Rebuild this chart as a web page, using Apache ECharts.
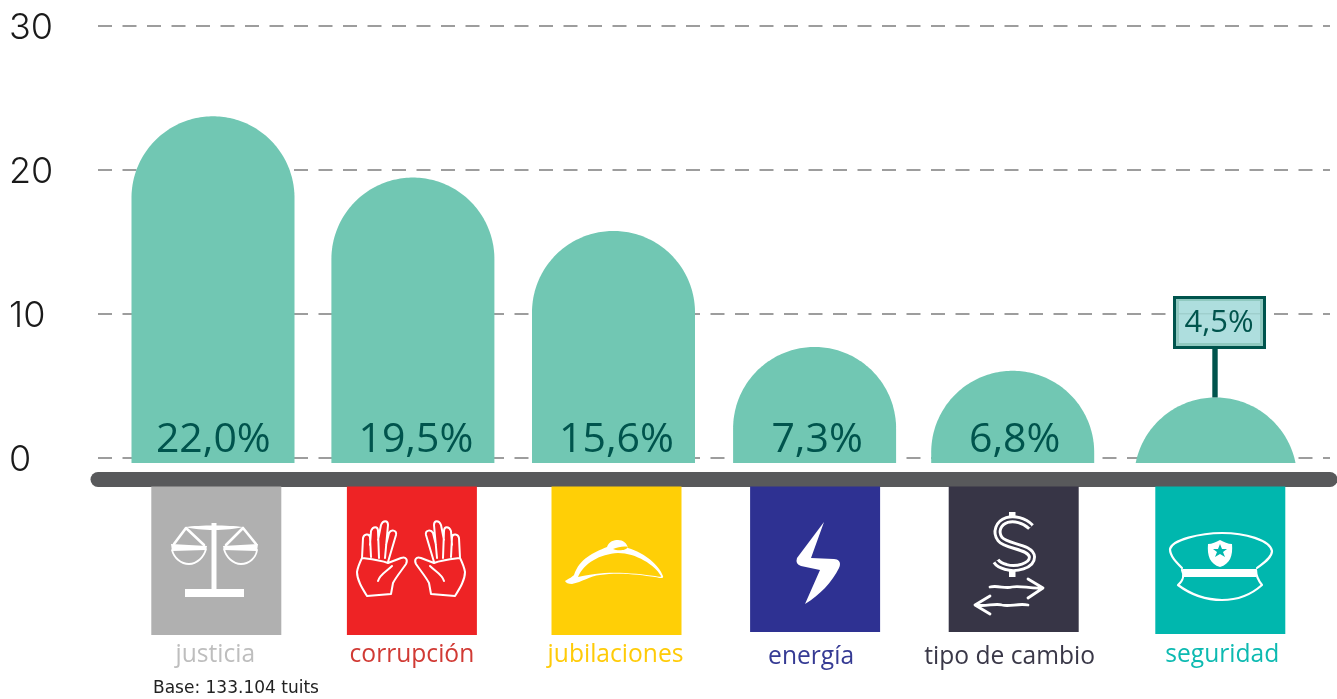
<!DOCTYPE html>
<html><head><meta charset="utf-8">
<style>html,body{margin:0;padding:0;background:#fff}#c{width:1337px;height:699px}</style>
<script src="https://cdn.jsdelivr.net/npm/echarts@6/dist/echarts.min.js"></script>
</head><body><div id="c"></div>
<script>
// ---- data ----
const categories = ['justicia','corrupción','jubilaciones','energía','tipo de cambio','seguridad'];
const shareValues = [22.0,19.5,15.6,7.3,6.8,4.5];
const domeTops = [23.7,19.45,15.75,7.7,6.05,4.2];
const domeBase = -0.35;
const yTicks = [0,10,20,30];
const baseNote = 'Base: 133.104 tuits';
const calloutCategory = 'seguridad';
// ---- style tables ----
const tileColors = ['#b0b0b0','#ee2325','#ffcf06','#2e3192','#373546','#00b7ae'];
const labelColors = ['#bebebe','#d13a34','#ffcb08','#363b94','#3a3848','#0dbab1'];
const barNudge = [-0.3,-1,-1,-0.5,-3,-0.7];
const valueNudge = [0,2,2,2,-1,0];
const tileNudge = [3,-2,2,0,-2,4];
const tileBottoms = [635,635,635,632,632,634];
const labelNudge = [2,-2,1,-4,-6,6];
const labelY = [655,655,655,657,657,655];
const BAR='#71c7b3', DARK='#00544d', R=81.5;

function dome(cx,top,base){
  const pts=[], cy=top+R;
  if(base>cy){pts.push([cx-R,base]);}
  else{const d=Math.sqrt(R*R-(cy-base)*(cy-base));pts.push([cx-d,base]);}
  for(let k=0;k<=120;k++){
    const a=Math.PI+Math.PI*k/120, x=cx+R*Math.cos(a), y=cy+R*Math.sin(a);
    if(y<=base) pts.push([x,y]);
  }
  if(base>cy){pts.push([cx+R,base]);}
  else{const d=Math.sqrt(R*R-(cy-base)*(cy-base));pts.push([cx+d,base]);}
  return pts;
}
function renderItem(params,api){
  const i=params.dataIndex;
  const c=api.coord([api.value(0),api.value(1)]);
  const cx=c[0]+barNudge[i], top=c[1];
  const zero=api.coord([api.value(0),0])[1];
  const base=api.coord([api.value(0),domeBase])[1];
  const tcx=c[0]+tileNudge[i];
  const pct=shareValues[i].toFixed(1).replace('.',',')+'%';
  const kids=[
    {type:'rect',shape:{x:tcx-65,y:486.5,width:130,height:tileBottoms[i]-486.5},style:{fill:tileColors[i]}},
    {type:'polygon',shape:{points:dome(cx,top,base)},style:{fill:BAR}},
    {type:'text',style:{x:c[0]+labelNudge[i],y:labelY[i],text:categories[i],fill:labelColors[i],font:'400 24.6px "Open Sans"',align:'center',verticalAlign:'middle'}}
  ];
  if(categories[i]===calloutCategory){
    const sx=c[0]-1.3;
    kids.push(
      {type:'rect',shape:{x:sx-2.7,y:347,width:5.4,height:top-347},style:{fill:DARK}},
      {type:'rect',shape:{x:sx-40.5,y:297.5,width:90,height:50},style:{fill:'#90c9c0',stroke:DARK,lineWidth:3}},
      {type:'rect',shape:{x:sx-36,y:301,width:81,height:42},style:{fill:'#aedede'}},
      {type:'rect',shape:{x:sx-36,y:313,width:81,height:1.5},style:{fill:'#9fcfcd'}},
      {type:'text',style:{x:sx+4,y:323.5,text:pct,fill:DARK,font:'400 31px "Open Sans"',align:'center',verticalAlign:'middle'}}
    );
  } else {
    kids.push({type:'text',style:{x:c[0]+valueNudge[i],y:zero-18,text:pct,fill:DARK,font:'400 41px "Open Sans"',align:'center',verticalAlign:'middle'}});
  }
  return {type:'group',children:kids};
}
const W={fill:'#fff'}, L=w=>({fill:'none',stroke:'#fff',lineWidth:w,lineCap:'round',lineJoin:'round'});
const handPath='M367,596 C362,588 357,580 357,572 C358,566 360,562 362,558 L363,538 C364,534 369,533 370,537 L371,557 M370,545 L371,531 C373,526 378,526 378,531 L379,558 M378,540 L381,525 C383,520 388,520 388,525 L385,558 M386,545 L389,533 C391,529 397,530 396,535 L388,562 M388,563 L401,558 C406,556 408,560 406,564 C402,570 396,577 393,583 L391,594 L367,596 M362,558 C370,559 380,560 388,563 M378,581 C380,574 386,572 392,566';
const dollarS='M1031,527 C1024,520 1014,518 1007,520 C998,523 995,532 1000,539 C1006,547 1031,546 1032,557 C1032,566 1016,570 1006,567 C1002,566 998,564 996,561';
const icons=[
  // scales
  {type:'rect',shape:{x:211.5,y:523,width:5,height:70},style:W},
  {type:'rect',shape:{x:185,y:589,width:59,height:8},style:W},
  {type:'path',shape:{pathData:'M185,527 C200,525 228,525 243,527 C228,531 200,531 185,527Z'},style:W},
  {type:'path',shape:{pathData:'M171,544 L207,546 L206,550 L172,551Z'},style:W},
  {type:'path',shape:{pathData:'M223,546 L258,544 L257,551 L224,550Z'},style:W},
  {type:'path',shape:{pathData:'M172,550 C174,558 181,564 189,564 C197,564 204,557 206,549'},style:L(1.8)},
  {type:'path',shape:{pathData:'M224,549 C226,557 233,564 241,564 C249,564 256,558 257,550'},style:L(1.8)},
  {type:'path',shape:{pathData:'M174,544 L186,528 L204,545 M226,545 L243,528 L256,544'},style:L(2.6)},
  // hands
  {type:'path',shape:{pathData:handPath},style:L(2)},
  {type:'path',x:822,scaleX:-1,shape:{pathData:handPath},style:L(2)},
  // cap
  {type:'path',shape:{pathData:'M565,581 C570,578 572,577 574,575 C580,558 593,553 607,547 C609,541 614,540 618,540 C623,540 627,543 628,548 C645,553 659,565 663,576 C664,579 660,578 655,577 C640,575 620,572 600,575 C590,576 582,582 572,584 C568,584 566,583 565,581Z'},style:W},
  {type:'path',shape:{pathData:'M578,577 C584,563 600,554 618,553 C636,553 655,565 661,576 C662,577 658,577 655,576 C640,574 615,571 595,574 C588,575 582,576 578,577Z'},style:{fill:'#ffcf06'}},
  {type:'path',shape:{pathData:'M613,549 C618,547 624,546 628,547 C626,551 617,551 613,549Z'},style:{fill:'#ffcf06'}},
  // bolt
  {type:'path',shape:{pathData:'M824,522 L797,558 Q795,564 801,566 L820,570 L805,604 C820,595 832,582 839,568 C842,562 838,559 834,559 L811,558 Z'},style:W},
  // dollar
  {type:'rect',shape:{x:1009,y:512,width:6.5,height:9},style:W},
  {type:'rect',shape:{x:1009,y:566,width:6.5,height:11},style:W},
  {type:'path',shape:{pathData:dollarS},style:{fill:'none',stroke:'#fff',lineWidth:8}},
  {type:'path',shape:{pathData:dollarS},style:{fill:'none',stroke:'#373546',lineWidth:2.2}},
  // arrows
  {type:'path',shape:{pathData:'M990,587 C998,585 1005,589 1012,587 C1020,585 1030,589 1042,588 M1028,579 L1043,588 L1028,598 M1028,605 C1018,603 1010,607 1002,605 C995,603 985,607 976,605 M990,596 L975,605 L990,614'},style:L(2.8)},
  // hat
  {type:'path',shape:{pathData:'M1182,568 C1176,562 1170,556 1170,549 C1172,540 1200,533 1222,533 C1245,533 1270,540 1272,551 C1272,558 1262,564 1257,568 M1182,570 C1184,574 1184,580 1178,585 C1190,594 1205,600 1222,600 C1238,600 1252,594 1262,585 C1258,580 1256,574 1256,570'},style:L(2.2)},
  {type:'rect',shape:{x:1183,y:569,width:73,height:8},style:W},
  {type:'path',shape:{pathData:'M1208,544 C1212,544 1216,542 1220,540 C1224,542 1228,544 1232,544 C1233,556 1230,564 1220,567 C1210,564 1207,556 1208,544Z'},style:W},
  {type:'path',shape:{pathData:'M1220,544 L1222,549 L1227,549 L1223,552 L1225,557 L1220,554 L1215,557 L1217,552 L1213,549 L1218,549Z'},style:{fill:'#00b7ae'}},
  // note
  {type:'text',style:{x:153,y:689,text:baseNote,fill:'#222',font:'400 17px "DejaVu Sans"',align:'left',verticalAlign:'middle'}}
];

const chart=echarts.init(document.getElementById('c'),null,{renderer:'canvas'});
chart.setOption({
  animation:false,
  grid:[
    {left:98,top:25.5,width:1232,height:432.5},
    {left:113,top:25.5,width:1203.6,height:432.5}
  ],
  xAxis:[
    {gridIndex:0,type:'value',min:0,max:1,offset:21,position:'bottom',
     axisLine:{show:true,onZero:false,lineStyle:{color:'#58595b',width:15,cap:'round'}},
     axisTick:{show:false},axisLabel:{show:false},splitLine:{show:false}},
    {gridIndex:1,type:'category',data:categories,show:false}
  ],
  yAxis:[
    {gridIndex:0,type:'value',min:yTicks[0],max:yTicks[3],interval:10,
     axisLine:{show:false},axisTick:{show:false},
     axisLabel:{align:'left',verticalAlign:'top',lineHeight:5,margin:89,color:'#1a1a1a',fontFamily:'Inter',fontWeight:300,fontSize:36},
     splitLine:{show:true,lineStyle:{color:'#9d9d9d',width:2,type:[14,10.5]}}},
    {gridIndex:1,type:'value',min:yTicks[0],max:yTicks[3],show:false,splitLine:{show:false}}
  ],
  series:[{
    type:'custom',xAxisIndex:1,yAxisIndex:1,renderItem:renderItem,
    data:categories.map((c,i)=>[i,domeTops[i]]),
    encode:{x:0,y:1},clip:false,silent:true,z:10
  },{
    type:'custom',xAxisIndex:1,yAxisIndex:1,data:[[0,0]],silent:true,z:20,clip:false,
    renderItem:()=>({type:'group',children:icons})
  }]
});
</script></body></html>
